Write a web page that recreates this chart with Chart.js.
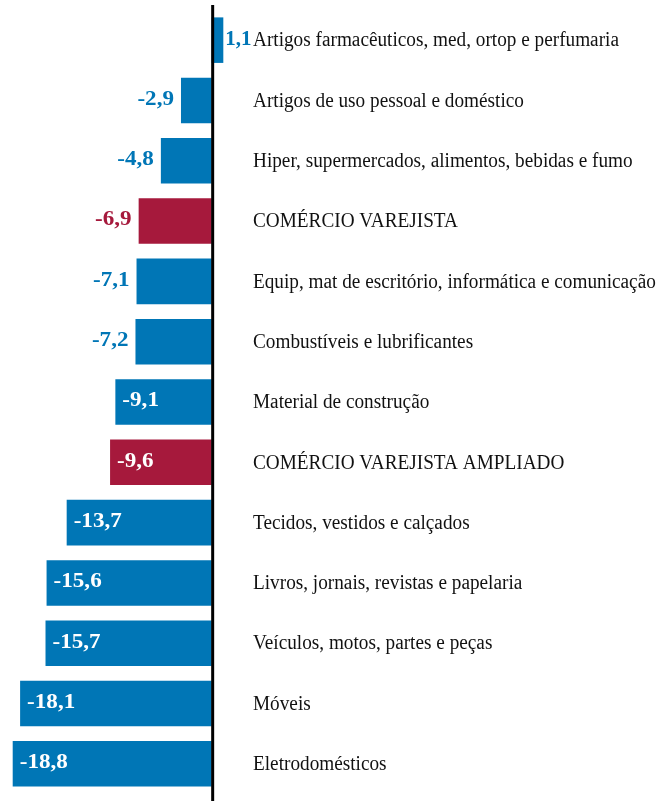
<!DOCTYPE html>
<html>
<head>
<meta charset="utf-8">
<script src="https://cdn.jsdelivr.net/npm/chart.js@4"></script>
<style>
  html, body { margin: 0; padding: 0; background: #ffffff; }
  #wrap { width: 671px; height: 801px; }
</style>
</head>
<body>
<div id="wrap"><canvas id="chart" width="671" height="801"></canvas></div>
<script>
// Categorias e variações (%)
const categories = [
    'Artigos farmacêuticos, med, ortop e perfumaria',
    'Artigos de uso pessoal e doméstico',
    'Hiper, supermercados, alimentos, bebidas e fumo',
    'COMÉRCIO VAREJISTA',
    'Equip, mat de escritório, informática e comunicação',
    'Combustíveis e lubrificantes',
    'Material de construção',
    'COMÉRCIO VAREJISTA AMPLIADO',
    'Tecidos, vestidos e calçados',
    'Livros, jornais, revistas e papelaria',
    'Veículos, motos, partes e peças',
    'Móveis',
    'Eletrodomésticos'
];
const values = [1.1, -2.9, -4.8, -6.9, -7.1, -7.2, -9.1, -9.6, -13.7, -15.6, -15.7, -18.1, -18.8];
const totals = ['COMÉRCIO VAREJISTA', 'COMÉRCIO VAREJISTA AMPLIADO'];

const blue = '#0076b6';
const red = '#a6193c';
const barColors = categories.map(c => totals.includes(c) ? red : blue);

function fmt(v) {
    return v.toFixed(1).replace('.', ',');
}

// texto com escala horizontal (fonte condensada / expandida)
function drawText(ctx, txt, x, y, align, sx) {
    const w = ctx.measureText(txt).width * sx;
    let left = x;
    if (align === 'right') left = x - w;
    ctx.save();
    ctx.translate(left, y);
    ctx.scale(sx, 1);
    ctx.textAlign = 'left';
    ctx.fillText(txt, 0, 0);
    ctx.restore();
}

// Rótulos, valores e linha do zero
const labelsPlugin = {
    id: 'labelsPlugin',
    afterDatasetsDraw(chart) {
        const ctx = chart.ctx;
        const x = chart.scales.x;
        const y = chart.scales.y;
        const zero = x.getPixelForValue(0);

        ctx.save();
        ctx.textBaseline = 'middle';

        categories.forEach((c, i) => {
            const cy = y.getPixelForValue(i);
            ctx.fillStyle = '#111111';
            ctx.font = '20px "Liberation Serif", "Times New Roman", serif';
            drawText(ctx, c, 253, cy + 1, 'left', 0.962);

            const v = values[i];
            const end = x.getPixelForValue(v);
            ctx.font = 'bold 21px "Liberation Serif", "Times New Roman", serif';
            if (v >= 0) {
                ctx.fillStyle = barColors[i];
                drawText(ctx, fmt(v), end + 2, cy - 1, 'left', 1.0);
            } else if (v <= -9) {
                ctx.fillStyle = '#ffffff';
                drawText(ctx, fmt(v), end + 7, cy - 1, 'left', 1.1);
            } else {
                ctx.fillStyle = barColors[i];
                drawText(ctx, fmt(v), end - 7, cy - 1, 'right', 1.1);
            }
        });

        ctx.strokeStyle = '#000000';
        ctx.lineWidth = 3;
        ctx.beginPath();
        ctx.moveTo(zero + 1, 5);
        ctx.lineTo(zero + 1, 801);
        ctx.stroke();
        ctx.restore();
    }
};

new Chart(document.getElementById('chart').getContext('2d'), {
    type: 'bar',
    data: {
        labels: categories,
        datasets: [{
            data: values,
            backgroundColor: barColors,
            borderWidth: 0,
            barPercentage: 0.755,
            categoryPercentage: 1
        }]
    },
    options: {
        indexAxis: 'y',
        responsive: false,
        animation: false,
        layout: { padding: { top: 10, bottom: 7, left: 0, right: 0 } },
        plugins: {
            legend: { display: false },
            tooltip: { enabled: false }
        },
        scales: {
            x: { display: false, min: -20, max: 43.4 },
            y: { display: false }
        }
    },
    plugins: [labelsPlugin]
});
</script>
</body>
</html>
